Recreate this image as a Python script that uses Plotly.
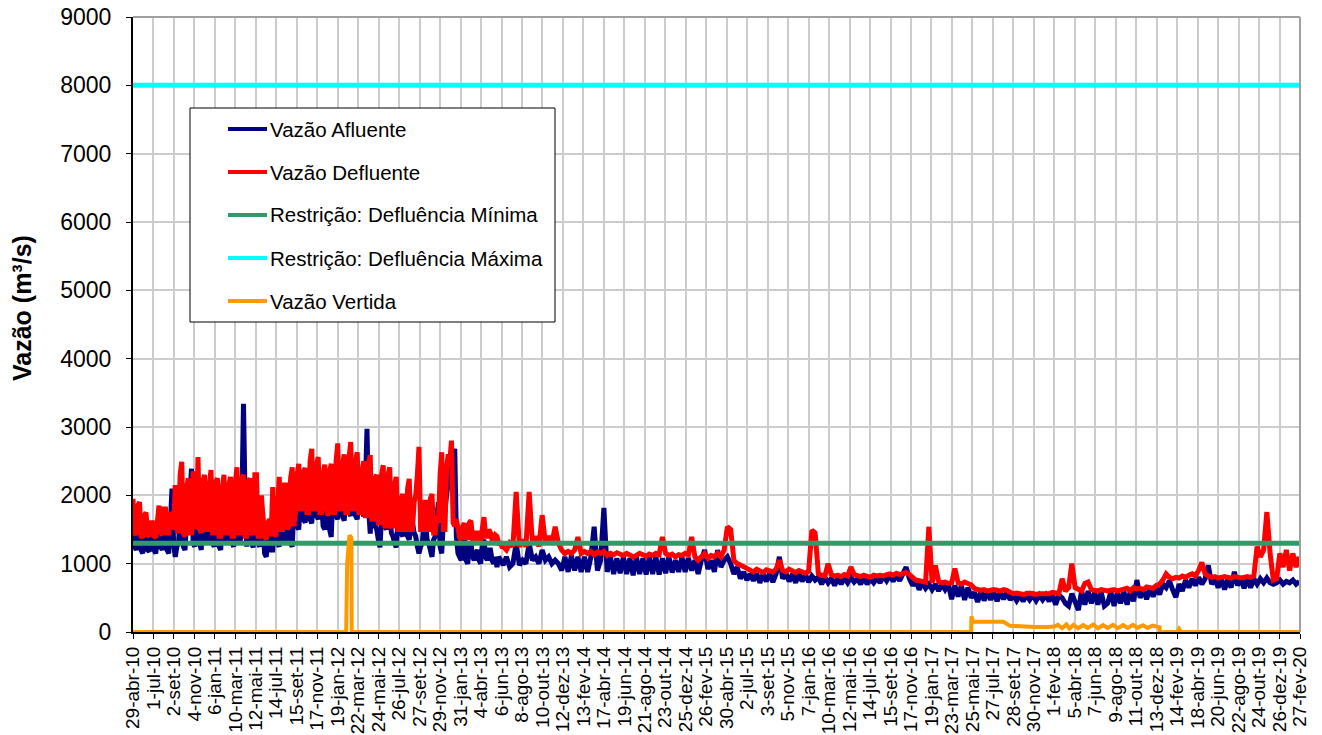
import pandas as pd
import plotly.graph_objects as go

# ---------------- DATA ----------------
start_date = "2010-04-29"
end_date = "2020-02-27"

# Part 1: 29-abr-10 .. mid-2013, one sample every 5 days
part1_step_days = 5
defluente_part1 = [
    1950, 1450, 1420, 1850, 1900, 1400, 1380, 1700, 1750, 1420, 1400, 1600, 1600, 1400, 1380, 1750, 1850, 1450, 1420, 1800,
    1800, 1450, 1450, 1750, 1700, 1500, 2150, 1500, 1450, 2300, 2490, 1450, 1400, 2100, 2250, 1450, 1450, 2350, 2200, 1500,
    2560, 1500, 1450, 2200, 2300, 1500, 1500, 2150, 2370, 1450, 1450, 2200, 2250, 1400, 1400, 2100, 2300, 1450, 1450, 2150,
    2270, 1400, 1400, 2200, 2410, 1450, 1450, 2250, 2300, 1400, 1400, 2200, 2250, 1450, 1450, 2300, 2300, 1400, 1400, 2000,
    1730, 1400, 1350, 1600, 1650, 1400, 2120, 1450, 1400, 2100, 2270, 1500, 1500, 2150, 2150, 1500, 1550, 2250, 2410, 1550,
    1750, 2300, 2460, 1800, 1800, 2350, 2400, 1750, 1750, 2500, 2680, 1800, 1800, 2450, 2560, 1750, 1750, 2300, 2450, 1800,
    1700, 2350, 2460, 1750, 1750, 2500, 2760, 1800, 1800, 2450, 2600, 1750, 1750, 2550, 2780, 1800, 1800, 2500, 2630, 1750,
    1750, 2350, 2500, 1700, 1700, 2450, 2590, 1650, 1650, 2250, 2300, 1600, 1600, 2300, 2440, 1550, 1550, 2300, 2410, 1550,
    1550, 2150, 2270, 1500, 1500, 1950, 2020, 1500, 1500, 2100, 2240, 1500, 1500, 1900, 2000, 2300, 2710, 1500, 1500, 1900,
    1900, 1500, 1500, 1950, 2020, 1450, 1450, 1700, 1600, 2300, 2630, 1500, 1500, 2400, 2600, 2500, 2800, 1600, 1550, 1650,
    1500, 1380, 1350, 1550, 1590, 1380, 1380, 1600, 1630, 1350, 1350, 1450, 1450, 1350, 1350, 1600, 1680, 1400, 1400, 1500,
    1450, 1350, 1350, 1420, 1400, 1300, 1300, 1250,
]
afluente_part1 = [
    1700, 1250, 1200, 1600, 1650, 1200, 1150, 1450, 1500, 1200, 1180, 1400, 1450, 1200, 1150, 1500, 1600, 1250, 1200, 1550,
    1650, 1200, 1150, 1600, 2100, 1300, 1100, 1250, 1300, 1700, 1900, 1250, 1200, 1650, 1700, 2000, 2390, 1300, 1250, 1800,
    2100, 1300, 1200, 1800, 1900, 1350, 1300, 1800, 1950, 1300, 1250, 1750, 1800, 1250, 1200, 1800, 1900, 1350, 1300, 1800,
    1900, 1300, 1250, 1800, 2000, 1350, 1300, 1900, 3340, 1900, 1250, 1800, 1900, 1300, 1240, 1750, 1800, 1300, 1250, 1500,
    1500, 1150, 1100, 1350, 1400, 1200, 1200, 1600, 1700, 1300, 1250, 1700, 1800, 1350, 1300, 1800, 1900, 1300, 1250, 1800,
    1900, 1550, 1500, 1900, 2000, 1650, 1600, 2000, 2100, 1650, 1590, 1950, 2000, 1700, 1650, 1850, 1900, 1550, 1500, 1900,
    2000, 1500, 1390, 2000, 2100, 1700, 1650, 2100, 2200, 1700, 1630, 2000, 2100, 1750, 1700, 2050, 2100, 1700, 1650, 2000,
    2000, 1750, 1700, 2100, 2975, 1800, 1440, 1900, 2000, 1550, 1500, 1350, 1240, 1700, 1900, 1550, 1500, 1750, 1800, 1450,
    1400, 1300, 1240, 1600, 1700, 1450, 1400, 1750, 1800, 1400, 1350, 1550, 1600, 1450, 1400, 1250, 1150, 1250, 1300, 1550,
    1600, 1350, 1300, 1200, 1100, 1350, 1400, 1700, 1900, 1250, 1150, 1600, 1800, 2100, 2300, 2400, 2500, 2600, 2680, 1400,
    1150, 1100, 1050, 1350, 1400, 1050, 1000, 1250, 1300, 1100, 1050, 1150, 1200, 1050, 1000, 1300, 1350, 1100, 1050, 1200,
    1200, 1050, 1000, 1100, 950, 1100, 1050, 1000,
]

# Part 2: mid-2013 .. 2020, one sample every 10 days
part2_start = "2013-06-11"
part2_step_days = 10
defluente_part2 = [
    1250, 1200, 1300, 1250, 2050, 1250,
    1350, 1250, 2050, 1300, 1400, 1250, 1710, 1300, 1400, 1300,
    1540, 1300, 1200, 1150, 1180, 1150, 1200, 1390, 1150, 1180,
    1150, 1180, 1130, 1170, 1150, 1180, 1120, 1150, 1130, 1160,
    1140, 1120, 1150, 1130, 1100, 1120, 1150, 1130, 1110, 1140,
    1120, 1150, 1130, 1390, 1150, 1120, 1140, 1100, 1130, 1120,
    1150, 1130, 1390, 1100, 1050, 1100, 1150, 1080, 1120, 1100,
    1150, 1100, 1200, 1540, 1500, 1050, 1000, 980, 950, 920,
    900, 880, 920, 900, 870, 910, 890, 880, 920, 1050,
    900, 880, 920, 890, 870, 900, 880, 860, 890, 1490,
    1450, 850, 830, 820, 1000, 840, 820, 830, 810, 840,
    820, 950, 840, 820, 810, 830, 820, 800, 830, 820,
    830, 820, 840, 850, 830, 860, 840, 850, 870, 840,
    800, 760, 750, 740, 730, 1540, 720, 975, 740, 720,
    730, 710, 720, 930, 720, 700, 730, 710, 690, 640,
    620, 610, 620, 600, 610, 620, 610, 600, 620, 610,
    580, 560, 570, 560, 550, 560, 570, 560, 550, 560,
    560, 570, 560, 580, 570, 560, 780, 600, 650, 1000,
    650, 620, 600, 710, 730, 620, 610, 600, 620, 610,
    600, 610, 620, 600, 610, 620, 640, 600, 650, 630,
    640, 620, 660, 650, 640, 680, 700, 760, 850, 800,
    780, 800, 790, 820, 800, 830, 850, 820, 900, 1020,
    850, 820, 800, 810, 790, 800, 810, 800, 790, 810,
    800, 790, 800, 810, 800, 820, 1250, 1100, 1200, 1755,
    1150, 760, 780, 1150, 950, 1200, 900, 1150, 950, 1100,
]
afluente_part2 = [
    980, 1100, 950, 1000, 1300, 980,
    1050, 1000, 1300, 1050, 1100, 1000, 1200, 1050, 1100, 1000,
    1050, 1000, 900, 1100, 880, 1120, 900, 1100, 880, 1100,
    880, 1100, 1540, 900, 1050, 1815, 880, 1100, 850, 1080,
    860, 1100, 850, 1080, 830, 1100, 850, 1080, 840, 1100,
    850, 1100, 840, 1080, 860, 1100, 870, 1050, 880, 1100,
    880, 1080, 900, 1050, 850, 1050, 1200, 920, 1050, 880,
    1200, 950, 1050, 1100, 1000, 850, 950, 780, 880, 760,
    850, 750, 860, 720, 850, 740, 860, 730, 850, 1100,
    780, 860, 740, 850, 720, 860, 740, 840, 730, 820,
    760, 800, 700, 800, 720, 780, 680, 800, 700, 790,
    720, 800, 730, 780, 700, 800, 700, 780, 720, 790,
    720, 820, 750, 830, 740, 840, 750, 850, 950, 780,
    680, 750, 620, 720, 640, 700, 620, 700, 600, 700,
    620, 700, 480, 680, 520, 680, 470, 650, 500, 580,
    440, 600, 460, 590, 470, 580, 450, 590, 480, 580,
    470, 540, 460, 540, 450, 540, 470, 540, 460, 540,
    470, 540, 450, 550, 400, 540, 500, 420, 380, 560,
    420, 320, 600, 400, 600, 420, 580, 400, 590, 380,
    420, 590, 380, 580, 420, 590, 400, 600, 450, 760,
    500, 620, 480, 630, 520, 640, 550, 700, 650, 750,
    620, 510, 700, 600, 760, 650, 780, 680, 800, 700,
    780, 975, 700, 780, 650, 780, 620, 780, 650, 880,
    680, 780, 640, 780, 650, 780, 700, 780, 720, 790,
    720, 700, 720, 760, 700, 740, 720, 760, 700, 740,
]

restricao_minima = 1300
restricao_maxima = 8000

vertida_dates = [
    "2010-04-29", "2012-02-14", "2012-02-17", "2012-02-24", "2012-03-01", "2012-03-02",
    "2017-05-21", "2017-05-22", "2017-05-27", "2017-08-28", "2017-09-18", "2017-10-15",
    "2017-12-01", "2018-01-15", "2018-02-01", "2018-02-12", "2018-02-25", "2018-03-10",
    "2018-03-20", "2018-04-01", "2018-04-15", "2018-05-01", "2018-05-15", "2018-06-01",
    "2018-06-15", "2018-07-01", "2018-07-15", "2018-08-01", "2018-08-15", "2018-09-01",
    "2018-09-15", "2018-10-01", "2018-10-15", "2018-11-01", "2018-11-15", "2018-12-01",
    "2018-12-15", "2018-12-22", "2018-12-23", "2019-02-15", "2019-02-20", "2019-02-26",
    "2020-02-27",
]
vertida_values = [
    0, 0, 1000, 1415, 1380, 0,
    0, 230, 150, 150, 90, 80,
    75, 75, 80, 105, 55, 110,
    50, 105, 55, 100, 60, 110,
    55, 100, 60, 105, 55, 100,
    60, 105, 60, 100, 60, 95,
    70, 70, 0, 0, 45, 0,
    0,
]

tick_labels = [
    "29-abr-10", "1-jul-10", "2-set-10", "4-nov-10", "6-jan-11", "10-mar-11", "12-mai-11",
    "14-jul-11", "15-set-11", "17-nov-11", "19-jan-12", "22-mar-12", "24-mai-12", "26-jul-12",
    "27-set-12", "29-nov-12", "31-jan-13", "4-abr-13", "6-jun-13", "8-ago-13", "10-out-13",
    "12-dez-13", "13-fev-14", "17-abr-14", "19-jun-14", "21-ago-14", "23-out-14", "25-dez-14",
    "26-fev-15", "30-abr-15", "2-jul-15", "3-set-15", "5-nov-15", "7-jan-16", "10-mar-16",
    "12-mai-16", "14-jul-16", "15-set-16", "17-nov-16", "19-jan-17", "23-mar-17", "25-mai-17",
    "27-jul-17", "28-set-17", "30-nov-17", "1-fev-18", "5-abr-18", "7-jun-18", "9-ago-18",
    "11-out-18", "13-dez-18", "14-fev-19", "18-abr-19", "20-jun-19", "22-ago-19", "24-out-19",
    "26-dez-19", "27-fev-20",
]
tick_step_days = 63

series_names = [
    "Vazão Afluente",
    "Vazão Defluente",
    "Restrição: Defluência Mínima",
    "Restrição: Defluência Máxima",
    "Vazão Vertida",
]
series_colors = ["#000080", "#ff0000", "#339966", "#00ffff", "#ff9900"]

# ---------------- FIGURE ----------------
W, H = 1322, 735
ML, MR, MT, MB = 133, 22, 17, 103
PW, PH = W - ML - MR, H - MT - MB
FONT = "Liberation Sans, Arial, sans-serif"


def px_x(p):
    """figure pixel -> paper x"""
    return (p - ML) / PW


def px_y(p):
    """figure pixel -> paper y"""
    return (H - MB - p) / PH


dates_part1 = pd.date_range(start_date, periods=len(defluente_part1), freq=f"{part1_step_days}D")
dates_part2 = pd.date_range(part2_start, periods=len(defluente_part2), freq=f"{part2_step_days}D")
dates = dates_part1.append(dates_part2)
vazao_defluente = defluente_part1 + defluente_part2
vazao_afluente = afluente_part1 + afluente_part2

tick_vals = pd.date_range(start_date, periods=len(tick_labels), freq=f"{tick_step_days}D")
full_span = [pd.Timestamp(start_date), pd.Timestamp(end_date)]

fig = go.Figure()
fig.add_trace(go.Scatter(x=dates, y=vazao_afluente, mode="lines", name=series_names[0],
                         line=dict(color=series_colors[0], width=5), showlegend=False))
fig.add_trace(go.Scatter(x=dates, y=vazao_defluente, mode="lines", name=series_names[1],
                         line=dict(color=series_colors[1], width=5), showlegend=False))
fig.add_trace(go.Scatter(x=full_span, y=[restricao_minima] * 2, mode="lines", name=series_names[2],
                         line=dict(color=series_colors[2], width=5), showlegend=False))
fig.add_trace(go.Scatter(x=full_span, y=[restricao_maxima] * 2, mode="lines", name=series_names[3],
                         line=dict(color=series_colors[3], width=5), showlegend=False))
fig.add_trace(go.Scatter(x=pd.to_datetime(vertida_dates), y=vertida_values, mode="lines",
                         name=series_names[4], line=dict(color=series_colors[4], width=4),
                         showlegend=False))

# plot frame (top / right in gray)
fig.add_shape(type="line", xref="paper", yref="paper", x0=0, x1=1, y0=1, y1=1,
              line=dict(color="#a0a0a0", width=2), layer="above")
fig.add_shape(type="line", xref="paper", yref="paper", x0=1, x1=1, y0=0, y1=1,
              line=dict(color="#a0a0a0", width=2), layer="above")

# legend box drawn by hand
fig.add_shape(type="rect", xref="paper", yref="paper",
              x0=px_x(190), x1=px_x(555), y0=px_y(322), y1=px_y(108),
              line=dict(color="black", width=1), fillcolor="white", layer="above")
row_y = [129, 172, 215, 258, 301]
for name, color, ry in zip(series_names, series_colors, row_y):
    fig.add_shape(type="line", xref="paper", yref="paper",
                  x0=px_x(228), x1=px_x(267), y0=px_y(ry), y1=px_y(ry),
                  line=dict(color=color, width=4), layer="above")
    fig.add_annotation(x=px_x(268), y=px_y(ry), xref="paper", yref="paper",
                       text=name, showarrow=False, xanchor="left", yanchor="middle",
                       font=dict(family=FONT, size=20.5, color="black"))

# y-axis title
fig.add_annotation(x=px_x(22), y=px_y(308), xref="paper", yref="paper",
                   text="<b>Vazão (m³/s)</b>", showarrow=False, textangle=-90,
                   xanchor="center", yanchor="middle",
                   font=dict(family=FONT, size=25, color="black"))

fig.update_layout(
    width=W, height=H,
    margin=dict(l=ML, r=MR, t=MT, b=MB, autoexpand=False),
    paper_bgcolor="white", plot_bgcolor="white",
    font=dict(family=FONT, color="black"),
    showlegend=False,
)
fig.update_xaxes(
    type="date", range=full_span, automargin=False,
    tickmode="array", tickvals=tick_vals, ticktext=tick_labels,
    tickangle=-90, tickfont=dict(family=FONT, size=19, color="black"),
    ticks="outside", ticklen=5, tickcolor="black", tickwidth=1,
    ticklabeloverflow="allow",
    showgrid=True, gridcolor="#cccccc", gridwidth=2,
    showline=True, linecolor="black", linewidth=2,
    zeroline=False,
)
fig.update_yaxes(
    range=[0, 9000], tickmode="linear", tick0=0, dtick=1000, automargin=False,
    tickfont=dict(family=FONT, size=23, color="black"),
    ticks="outside", ticklen=5, tickcolor="black", tickwidth=1,
    ticklabelstandoff=10, ticklabeloverflow="allow",
    showgrid=True, gridcolor="#cccccc", gridwidth=2,
    showline=True, linecolor="black", linewidth=2,
    zeroline=False,
)

# remove the page's default 8px body margin so the figure fills the window
fig.write_html("out.html", config={"displayModeBar": False},
               post_script="document.body.style.margin='0';")
